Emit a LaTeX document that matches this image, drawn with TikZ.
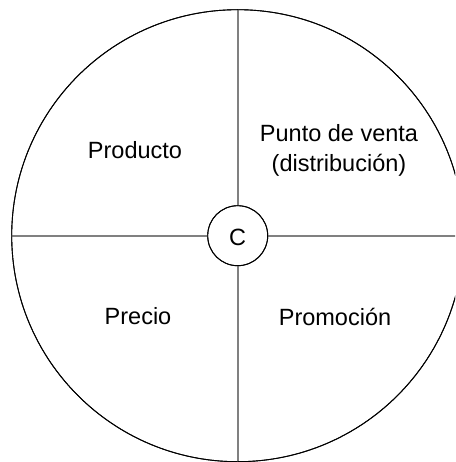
\documentclass[tikz,border=0pt]{standalone}
\usepackage{fontspec}
\setmainfont{Liberation Sans}
\begin{document}
\begin{tikzpicture}[x=1pt,y=-1pt,
  divider/.style={draw=black!50,line width=2pt},
  ring/.style={circle,draw=black,line width=0.9pt,inner sep=0pt},
  label/.style={font=\fontsize{23.5}{30}\selectfont,align=center,inner sep=0pt}]
\clip (0,0) rectangle (455,462);
\fill[white] (0,0) rectangle (455,462);
\node[ring,minimum size=452pt] (O) at (237.7,235.7) {};
\node[ring,minimum size=60pt,fill=white] (C) at (237.7,235.7) {};
\draw[divider] (O.north) -- (C.north);
\draw[divider] (C.south) -- (O.south);
\draw[divider] (O.west) -- (C.west);
\draw[divider] (C.east) -- (O.east);
\node[ring,minimum size=452pt] at (O) {};
\node[ring,minimum size=60pt] at (C) {};
\node[label] (c) at (237.7,237) {C};
\node[label] (prod) at (135,150) {Producto};
\node[label] (pv) at (339,150) {Punto de venta\\(distribución)};
\node[label] (prec) at (138,316) {Precio};
\node[label] (prom) at (335,317) {Promoción};
\end{tikzpicture}
\end{document}
